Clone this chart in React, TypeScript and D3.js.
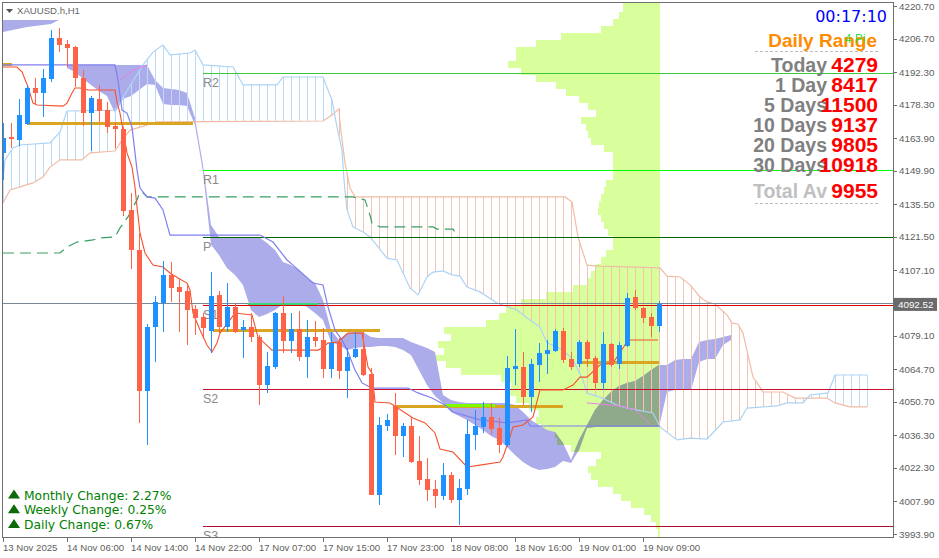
import React from "react";
import * as d3 from "d3";

const W = 939;
const H = 558;

// ---------- candles (H1) ----------
const opens = [4157.6, 4164.4, 4163.1, 4170.0, 4185.5, 4183.3, 4189.3, 4207.0, 4204.4, 4203.1, 4189.8, 4174.7, 4180.8, 4176.0, 4169.2, 4167.9, 4133.1, 4115.9, 4055.3, 4082.8, 4093.1, 4105.2, 4100.0, 4098.3, 4090.5, 4087.1, 4081.1, 4096.6, 4082.8, 4091.4, 4081.5, 4082.8, 4078.5, 4057.9, 4065.6, 4088.8, 4076.8, 4082.0, 4069.9, 4078.5, 4077.2, 4064.8, 4076.4, 4063.9, 4069.9, 4073.4, 4062.6, 4010.7, 4040.3, 4048.9, 4036.0, 4040.3, 4025.3, 4017.5, 4013.2, 4010.2, 4019.2, 4008.5, 4013.2, 4036.4, 4039.9, 4044.2, 4039.4, 4032.1, 4064.8, 4065.6, 4052.8, 4066.5, 4071.2, 4072.5, 4081.1, 4069.1, 4066.9, 4076.4, 4069.5, 4058.8, 4075.5, 4066.9, 4074.7, 4095.7, 4091.0, 4087.1, 4083.2];
const highs = [4170.4, 4170.4, 4180.8, 4186.8, 4189.8, 4193.6, 4210.4, 4211.2, 4206.1, 4203.5, 4193.2, 4182.0, 4186.8, 4179.5, 4170.4, 4168.7, 4140.4, 4123.2, 4084.1, 4096.1, 4111.2, 4110.7, 4103.4, 4101.7, 4092.3, 4088.8, 4106.4, 4098.3, 4101.7, 4093.1, 4085.8, 4088.8, 4079.4, 4072.1, 4089.3, 4096.1, 4088.8, 4089.7, 4085.8, 4085.4, 4082.4, 4080.7, 4078.1, 4073.8, 4080.7, 4080.7, 4065.2, 4044.2, 4045.4, 4054.5, 4041.6, 4044.2, 4036.0, 4026.5, 4017.1, 4024.4, 4020.5, 4017.5, 4042.9, 4047.2, 4050.6, 4050.2, 4043.7, 4070.4, 4082.0, 4072.1, 4069.1, 4075.9, 4077.2, 4082.0, 4082.4, 4072.1, 4077.2, 4077.2, 4070.4, 4080.7, 4075.9, 4076.4, 4097.4, 4098.7, 4091.4, 4088.8, 4094.0];
const lows = [4146.0, 4159.7, 4160.6, 4169.6, 4178.2, 4173.0, 4188.1, 4200.9, 4194.5, 4185.9, 4169.2, 4158.4, 4170.9, 4166.2, 4159.7, 4130.5, 4107.7, 4041.6, 4032.1, 4067.8, 4080.7, 4093.6, 4080.7, 4075.1, 4079.4, 4078.5, 4071.7, 4080.2, 4080.7, 4080.2, 4069.5, 4076.4, 4049.3, 4054.5, 4064.8, 4071.7, 4071.7, 4068.2, 4060.9, 4074.2, 4060.9, 4060.9, 4060.5, 4052.3, 4069.5, 4061.8, 4010.7, 4006.4, 4038.1, 4027.8, 4027.0, 4024.4, 4015.0, 4008.1, 4005.1, 4008.5, 4007.2, 3997.8, 4010.7, 4030.0, 4037.3, 4036.9, 4028.7, 4031.3, 4057.9, 4049.3, 4046.3, 4059.2, 4062.6, 4072.1, 4067.4, 4064.3, 4065.6, 4065.6, 4055.8, 4055.8, 4065.6, 4064.8, 4074.2, 4090.1, 4084.5, 4078.5, 4080.7];
const closes = [4164.0, 4163.6, 4173.9, 4185.5, 4183.3, 4189.8, 4207.0, 4204.0, 4202.7, 4189.8, 4174.7, 4181.2, 4175.6, 4168.7, 4167.9, 4132.6, 4115.9, 4055.3, 4082.8, 4093.6, 4105.2, 4099.6, 4097.9, 4090.1, 4086.7, 4082.4, 4096.1, 4082.8, 4091.4, 4080.7, 4082.8, 4078.5, 4057.9, 4066.1, 4088.8, 4076.8, 4082.0, 4069.9, 4078.5, 4076.8, 4064.8, 4075.9, 4063.9, 4069.9, 4073.4, 4062.2, 4010.7, 4040.7, 4042.9, 4036.0, 4040.3, 4024.8, 4017.1, 4012.8, 4010.2, 4019.2, 4008.5, 4013.7, 4036.9, 4040.3, 4044.2, 4039.0, 4032.1, 4065.2, 4066.1, 4052.8, 4066.9, 4071.7, 4072.9, 4081.1, 4068.6, 4065.6, 4076.4, 4069.1, 4058.8, 4075.5, 4066.5, 4075.1, 4095.3, 4091.0, 4086.7, 4083.2, 4092.5];

// ---------- axes ----------
const timeLabels = ["13 Nov 2025", "14 Nov 06:00", "14 Nov 14:00", "14 Nov 22:00", "17 Nov 07:00", "17 Nov 15:00", "17 Nov 23:00", "18 Nov 08:00", "18 Nov 16:00", "19 Nov 01:00", "19 Nov 09:00"];
const timeLabelBars = [0, 8, 16, 24, 32, 40, 48, 56, 64, 72, 80];
const priceTicks = [4220.7, 4206.7, 4192.3, 4178.3, 4163.9, 4149.9, 4135.5, 4121.5, 4107.1, 4079.1, 4064.7, 4050.7, 4036.3, 4022.3, 4007.9, 3993.9];
const lastPrice = 4092.52;

// ---------- Ichimoku (bar index, price) ----------
const spanA: [number, number][] = [[0, 4136.1], [0.875, 4141.7], [2.125, 4143.0], [3.75, 4144.7], [5, 4147.2], [5.875, 4151.5], [7.125, 4154.6], [9.875, 4154.6], [10.875, 4157.6], [14, 4158.4], [14.875, 4163.1], [15.875, 4167.4], [17.125, 4168.7], [19.25, 4170.9], [40, 4171.3], [41.125, 4173.9], [42, 4176.5], [42.125, 4170.4], [42.75, 4153.3], [43.375, 4142.5], [44, 4138.7], [70.25, 4138.7], [71.125, 4136.5], [71.875, 4121.5], [73, 4109.4], [74.625, 4109.0], [82.125, 4108.2], [83, 4104.7], [84.625, 4104.3], [85.875, 4100.9], [87.125, 4095.7], [88, 4093.6], [89, 4092.7], [90.5, 4088.0], [91.125, 4084.5], [91.875, 4084.1], [92.5, 4080.2], [93.75, 4061.3], [94.625, 4057.0], [95, 4054.9], [97.5, 4054.9], [99, 4052.3], [103, 4052.3], [104, 4050.2], [105.875, 4048.5], [108, 4048.5]];
const spanB: [number, number][] = [[0, 4145.9], [0.25, 4154.6], [1.25, 4159.7], [2.125, 4161.0], [5.875, 4161.9], [7.125, 4166.6], [8, 4175.6], [14, 4176.0], [17.5, 4195.4], [18.75, 4200.9], [20, 4203.9], [20.875, 4199.7], [23.375, 4200.5], [24, 4201.8], [25, 4195.4], [28.75, 4194.5], [30, 4186.8], [34.25, 4186.8], [35, 4190.2], [40, 4190.2], [41.125, 4180.3], [41.75, 4168.7], [42.375, 4158.8], [42.625, 4146.0], [43, 4133.1], [43.75, 4125.8], [45, 4123.6], [45.875, 4121.5], [48, 4112.4], [49.25, 4111.6], [50.875, 4099.6], [51.875, 4096.6], [53, 4104.3], [53.75, 4106.4], [55, 4106.9], [56.125, 4105.2], [57.125, 4104.7], [58, 4100.0], [59.625, 4097.9], [61.75, 4093.1], [64.25, 4090.1], [65.5, 4086.7], [67.125, 4082.8], [68, 4076.0], [70, 4073.0], [71.25, 4068.6], [72.5, 4060.0], [73, 4054.4], [74.625, 4052.7], [76.75, 4049.3], [78, 4048.0], [81.25, 4045.9], [82.125, 4039.9], [84.25, 4034.3], [85.875, 4035.1], [88, 4034.7], [90, 4042.0], [92.125, 4042.9], [93, 4048.0], [96.75, 4048.9], [98, 4050.2], [100, 4050.2], [100.875, 4053.6], [103.125, 4054.5], [104, 4062.2], [108, 4062.2]];
const kijun: [number, number][] = [[0, 4195.4], [14, 4195.4], [14.375, 4188.9], [14.875, 4176.0], [15.5, 4174.7], [16.125, 4168.7], [16.75, 4150.3], [17.125, 4142.5], [18, 4138.7], [19, 4138.2], [20, 4133.1], [20.875, 4122.3], [32.125, 4122.3], [33.75, 4119.3], [35.5, 4111.6], [36.25, 4109.4], [38.75, 4101.7], [40, 4100.9], [40.625, 4091.4], [41.5, 4081.5], [42.375, 4077.2], [43.125, 4072.1], [44, 4064.3], [44.875, 4058.8], [46.125, 4056.6], [50.625, 4056.6], [51.875, 4054.5], [53.625, 4052.3], [55.25, 4049.3], [56.25, 4046.3], [59.625, 4042.9], [63, 4041.6], [65.5, 4042.9], [65.875, 4040.3], [82.125, 4040.3]];
const tenkan: [number, number][] = [[0, 4194.5], [1.75, 4194.5], [2.375, 4192.4], [3.125, 4185.9], [3.75, 4179.0], [4.25, 4178.2], [7.5, 4177.7], [8, 4179.0], [8.625, 4183.3], [9, 4185.5], [9.625, 4185.5], [10.625, 4184.6], [14, 4184.6], [14.25, 4179.5], [14.625, 4174.7], [15, 4167.4], [15.5, 4157.6], [16.125, 4151.5], [16.5, 4143.0], [16.75, 4134.4], [17.125, 4123.2], [17.75, 4114.6], [18.75, 4109.4], [20, 4108.6], [20.875, 4106.0], [21.875, 4103.9], [23, 4101.7], [23.375, 4098.7], [23.75, 4088.8], [24.625, 4081.5], [25.5, 4075.1], [26.125, 4072.1], [26.75, 4075.9], [27.125, 4080.2], [29, 4088.8], [31.125, 4088.0], [31.875, 4078.5], [33.625, 4072.9], [39.375, 4072.9], [39.875, 4073.8], [40.625, 4075.9], [41.875, 4076.4], [43.125, 4080.2], [44.875, 4080.2], [45.625, 4065.6], [46.125, 4063.0], [46.5, 4050.6], [48.375, 4050.2], [51.25, 4043.7], [52.75, 4041.6], [54, 4037.3], [54.625, 4030.4], [56.25, 4029.1], [58, 4022.7], [59.625, 4023.5], [62.125, 4024.8], [62.5, 4027.0], [63.375, 4035.6], [63.75, 4039.9], [65, 4040.7], [66.25, 4044.2], [67.125, 4055.8], [70, 4055.8], [71.25, 4057.9], [72.125, 4061.3], [73, 4061.3], [74.625, 4066.5], [76.25, 4067.4], [77.5, 4073.8], [78.125, 4077.2], [81.875, 4077.2]];
const dashedLevel: [number, number][] = [[0, 4114.6], [7.125, 4114.6], [8, 4117.2], [9.25, 4119.3], [11.25, 4120.2], [12.125, 4121.1], [14, 4121.5], [14.625, 4125.4], [15.625, 4130.1], [16.25, 4134.4], [16.75, 4137.4], [17.125, 4140.8], [17.5, 4140.4], [18, 4138.7], [43.75, 4138.7], [45.25, 4137.4], [45.875, 4130.9], [46.125, 4127.5], [47.125, 4125.8], [53.75, 4125.8], [54.25, 4124.9], [56.25, 4124.9], [56.875, 4121.5]];
const pinkLineA: [number, number][] = [[14.625, 4188.9], [16.25, 4193.2], [18, 4195.4]];
const pinkLineB: [number, number][] = [[73, 4050.2], [77.125, 4048.9], [79, 4047.2], [81.125, 4040.3]];

// higher-timeframe filled cloud
const lavBars = [0, 3, 6, 7, 7.5, 8, 9, 10, 11, 12, 13, 14, 15, 16, 17, 18, 19, 20, 21, 22, 23, 24, 25, 26, 27, 28, 29, 30, 31, 32, 33, 34, 35, 36, 37, 38, 39, 40, 41, 42, 43, 44, 45, 46, 47, 48, 49, 50, 51, 52, 53, 54, 55, 56, 57, 58, 59, 60, 61, 62, 63, 64, 65, 66, 67, 68, 69, 70, 71, 72, 73, 74, 75, 76, 77, 78, 79, 80, 81, 82, 83, 84, 85, 86, 87, 88, 89, 90, 91];
const lavUpper = [4214.7, 4214.7, 4214.7, 4214.7, null, 4195.4, 4195.4, 4195.4, 4195.4, 4195.4, 4195.4, 4195.4, 4195.4, 4195.4, 4195.4, 4195.4, 4188.9, 4185.5, 4185.1, 4184.6, 4183.3, 4172.6, 4152.4, 4126.6, 4121.5, 4121.5, 4121.5, 4121.5, 4121.5, 4121.5, 4118.9, 4115.9, 4110.7, 4109.4, 4107.3, 4103.9, 4101.7, 4094.4, 4081.5, 4077.2, 4080.2, 4080.7, 4080.7, 4078.5, 4078.1, 4078.1, 4078.1, 4078.1, 4076.4, 4075.1, 4073.8, 4072.1, 4053.6, 4051.5, 4050.6, 4050.2, 4050.2, 4050.2, 4050.2, 4050.2, 4050.2, 4049.3, 4046.3, 4042.9, 4040.7, 4038.6, 4037.7, 4033.0, 4025.7, 4034.3, 4040.7, 4047.2, 4051.5, 4054.9, 4057.5, 4058.8, 4059.6, 4061.8, 4064.3, 4066.5, 4066.5, 4068.6, 4069.1, 4069.1, 4076.4, 4077.2, 4077.7, 4078.5, 4079.4];
const lavLower = [4209.5, 4211.7, 4213.0, 4214.7, null, 4194.1, 4192.4, 4189.4, 4186.8, 4184.2, 4182.0, 4174.7, 4180.8, 4182.0, 4184.6, 4187.2, 4186.8, 4178.6, 4178.2, 4178.2, 4177.7, 4169.6, 4149.4, 4118.1, 4113.7, 4108.2, 4105.2, 4100.9, 4090.1, 4087.1, 4088.4, 4090.1, 4092.7, 4093.1, 4093.1, 4091.4, 4088.8, 4085.8, 4076.4, 4075.1, 4072.9, 4073.8, 4074.2, 4074.2, 4074.7, 4074.7, 4074.2, 4072.9, 4070.8, 4064.3, 4057.9, 4053.2, 4050.2, 4046.3, 4044.6, 4042.9, 4040.7, 4038.6, 4036.0, 4034.3, 4031.3, 4027.8, 4024.8, 4022.7, 4021.4, 4021.8, 4022.7, 4025.3, 4024.4, 4030.0, 4039.4, 4039.9, 4039.9, 4039.9, 4039.9, 4039.9, 4039.9, 4039.9, 4039.9, 4039.9, 4054.9, 4055.8, 4055.8, 4055.8, 4067.8, 4069.1, 4069.1, 4075.1, 4077.2];

// ---------- volume profile ----------
const profileLow = [3996, 3999, 4002, 4005, 4008, 4011, 4014, 4017, 4020, 4023, 4026, 4029, 4032, 4035, 4038, 4041, 4044, 4047, 4050, 4053, 4056, 4059, 4062, 4065, 4068, 4071, 4074, 4077, 4080, 4083, 4086, 4089, 4092, 4095, 4098, 4101, 4104, 4107, 4110, 4113, 4116, 4119, 4122, 4125, 4128, 4131, 4134, 4137, 4140, 4143, 4146, 4149, 4152, 4155, 4158, 4161, 4164, 4167, 4170, 4173, 4176, 4179, 4182, 4185, 4188, 4191, 4194, 4197, 4200, 4203, 4206, 4209, 4212, 4215, 4218, 4221];
const profileVol = [4, 9, 16, 29, 39, 47, 62, 69, 72, 64, 59, 89, 103, 111, 119, 124, 121, 131, 144, 154, 149, 159, 199, 214, 229, 216, 222, 209, 216, 174, 161, 154, 139, 114, 87, 72, 69, 64, 59, 54, 47, 47, 52, 56, 59, 62, 61, 59, 56, 54, 47, 47, 47, 47, 56, 69, 72, 74, 79, 64, 72, 81, 94, 104, 124, 139, 152, 144, 144, 124, 99, 59, 47, 41, 37, 37];
const profileStep = 3;

// ---------- pivots & levels ----------
const pivotNames = ["R2", "R1", "P", "S1", "S2", "S3"];
const pivotValues = [4191.9, 4150.3, 4121.5, 4092.3, 4056.2, 3997.5];
const pivotColors = ["#3cc83c", "#00ff00", "#006400", "#e00000", "#c8102e", "#b01030"];
const pivotStartBar = 25;

const goldLevels = [4195.4, 4170.4, 4081.5, 4048.5, 4067.4];
const goldFrom = [0, 3.125, 26.25, 49, 72.125];
const goldTo = [1.125, 23.75, 47.125, 70, 82];
const greenLevels = [4092.7, 4048.9];
const greenFrom = [30.625, 55.25];
const greenTo = [39.375, 61.5];
const greenColors = ["#3bd67a", "#7cfc00"];

// ---------- info panel ----------
const timerText = "00:17:10";
const rangeLabels = ["Today", "1 Day", "5 Days", "10 Days", "20 Days", "30 Days"];
const rangeValues = [4279, 8417, 11500, 9137, 9805, 10918];
const rangeAverage = 9955;
const changeLabels = ["Monthly Change", "Weekly Change", "Daily Change"];
const changeValues = [2.27, 0.25, 0.67];

function interp(pts: [number, number][], t: number): number {
  if (t <= pts[0][0]) return pts[0][1];
  for (let k = 1; k < pts.length; k++) {
    if (t <= pts[k][0]) {
      const [x0, y0] = pts[k - 1];
      const [x1, y1] = pts[k];
      return x1 === x0 ? y1 : y0 + ((y1 - y0) * (t - x0)) / (x1 - x0);
    }
  }
  return pts[pts.length - 1][1];
}

export default function App() {
  const left = 3, right = 893, top = 3, bottom = 537;
  const x = d3.scaleLinear().domain([0, 110]).range([3, 883]);
  const y = d3.scaleLinear().domain([3993.9, 4220.7]).range([534, 6]);
  const volW = d3.scaleLinear().domain([0, 100]).range([0, 100]);
  const lastBar = opens.length - 1;
  const profRight = x(lastBar) + 1;
  const overlapStart = x(69);

  const line = d3.line<[number, number]>().x((d) => x(d[0])).y((d) => y(d[1]));
  const lavData = lavBars.map((b, k) => ({ b, hi: lavUpper[k], lo: lavLower[k] }));
  const lavArea = d3
    .area<{ b: number; hi: number | null; lo: number | null }>()
    .defined((d) => d.hi != null)
    .x((d) => x(d.b))
    .y0((d) => y(d.lo as number))
    .y1((d) => y(d.hi as number));
  const lavPath = lavArea(lavData) || "";

  const hatchIdx = d3.range(0, 109);
  const sans = "'Liberation Sans', Arial, sans-serif";
  const dv = "'DejaVu Sans', Verdana, sans-serif";

  const profRects = profileLow.map((p, k) => {
    const y0 = Math.round(y(p + profileStep));
    const y1 = Math.round(y(p));
    const w = volW(profileVol[k]);
    return { x: Math.round(profRight - w), y: y0, h: y1 - y0, w: Math.round(w) };
  });

  return (
    <svg width={W} height={H} style={{ position: "absolute", left: 0, top: 0, background: "#fff" }} xmlns="http://www.w3.org/2000/svg">
      <defs>
        <clipPath id="plot">
          <rect x={left} y={top} width={right - left} height={bottom - top} />
        </clipPath>
        <clipPath id="profClip">
          {profRects.map((r, k) => {
            const xs = Math.max(r.x, overlapStart);
            return xs < profRight ? <rect key={k} x={xs} y={r.y} width={profRight - xs} height={r.h} /> : null;
          })}
        </clipPath>
      </defs>

      <g clipPath="url(#plot)">
        {/* volume profile */}
        <g shapeRendering="crispEdges" fill="#d9ff9d">
          {profRects.map((r, k) => (
            <rect key={k} x={r.x} y={r.y} width={profRight - r.x} height={r.h} />
          ))}
          <rect x={profRight - 2} y={top} width={2} height={bottom - top} />
        </g>

        {/* higher timeframe cloud */}
        <path d={lavPath} fill="#acacea" stroke="none" />
        <path d={lavPath} fill="#8fa98b" clipPath="url(#profClip)" />

        {/* ichimoku hatch */}
        <g shapeRendering="crispEdges">
          {hatchIdx.map((i) => {
            const a = interp(spanA, i);
            const b = interp(spanB, i);
            return (
              <line key={i} x1={x(i) + 0.5} x2={x(i) + 0.5} y1={y(a)} y2={y(b)} stroke={a >= b ? "#f2c4b2" : "#b8dbf7"} strokeWidth={1} />
            );
          })}
        </g>
        <path d={line(spanA) || ""} fill="none" stroke="#f0bca6" strokeWidth={1.2} />
        <path d={line(spanB) || ""} fill="none" stroke="#acd3f5" strokeWidth={1.2} />
        <path d={line(pinkLineA) || ""} fill="none" stroke="#e581e5" strokeWidth={1} />
        <path d={line(pinkLineB) || ""} fill="none" stroke="#e581e5" strokeWidth={1} />

        {/* pivots */}
        <g shapeRendering="crispEdges">
          {pivotValues.map((v, k) => (
            <line key={k} x1={x(pivotStartBar)} x2={right} y1={Math.round(y(v)) + 0.5} y2={Math.round(y(v)) + 0.5} stroke={pivotColors[k]} strokeWidth={k === 1 ? 1.5 : 1.2} />
          ))}
          <line x1={left} x2={right} y1={Math.round(y(lastPrice)) - 0.5} y2={Math.round(y(lastPrice)) - 0.5} stroke="#778899" strokeWidth={1.3} />
        </g>
        {pivotValues.map((v, k) => (
          <text key={k} x={x(pivotStartBar)} y={y(v) + 14} fontFamily={sans} fontSize={12.5} fill="#8a8a8a">
            {pivotNames[k]}
          </text>
        ))}

        {/* gold levels */}
        <g shapeRendering="crispEdges">
          {goldLevels.map((v, k) => (
            <line key={k} x1={x(goldFrom[k])} x2={x(goldTo[k])} y1={y(v)} y2={y(v)} stroke="#daa520" strokeWidth={3} />
          ))}
          {greenLevels.map((v, k) => (
            <line key={k} x1={x(greenFrom[k])} x2={x(greenTo[k])} y1={y(v)} y2={y(v)} stroke={greenColors[k]} strokeWidth={k === 0 ? 1.5 : 3} />
          ))}
        </g>

        {/* lines */}
        <path d={line(dashedLevel) || ""} fill="none" stroke="#3a9d62" strokeWidth={1.2} strokeDasharray="11,6" />
        <path d={line(kijun) || ""} fill="none" stroke="#7f7ff0" strokeWidth={1.2} />
        <path d={line(tenkan) || ""} fill="none" stroke="#f4522d" strokeWidth={1.1} />

        {/* candles */}
        <g shapeRendering="crispEdges">
          {opens.map((o, i) => {
            const c = closes[i];
            const bull = c >= o;
            const col = bull ? "#1e90ff" : "#ff6347";
            const cx = x(i);
            const yTop = y(Math.max(o, c));
            const yBot = y(Math.min(o, c));
            return (
              <g key={i}>
                <line x1={cx + 0.5} x2={cx + 0.5} y1={y(highs[i])} y2={y(lows[i])} stroke={col} strokeWidth={1} />
                <rect x={cx - 2} y={yTop} width={5} height={Math.max(1, yBot - yTop)} fill={col} />
              </g>
            );
          })}
        </g>
      </g>

      {/* frame */}
      <g shapeRendering="crispEdges" stroke="#6f6f6f" strokeWidth={1}>
        <line x1={2.5} x2={2.5} y1={2} y2={bottom + 1} />
        <line x1={2} x2={right + 1} y1={2.5} y2={2.5} />
        <line x1={right + 0.5} x2={right + 0.5} y1={2} y2={bottom + 1} />
        <line x1={2} x2={right + 1} y1={bottom + 0.5} y2={bottom + 0.5} />
      </g>

      {/* y axis */}
      <g shapeRendering="crispEdges">
        {priceTicks.map((p, k) => (
          <line key={k} x1={right} x2={right + 4} y1={Math.round(y(p)) + 0.5} y2={Math.round(y(p)) + 0.5} stroke="#6f6f6f" />
        ))}
      </g>
      {priceTicks.map((p, k) => (
        <text key={k} x={899} y={y(p) + 3.5} fontFamily={sans} fontSize={9.8} fill="#5e5e5e">
          {p.toFixed(2)}
        </text>
      ))}
      <rect x={894} y={y(lastPrice) - 6.5} width={43} height={13} fill="#6a6a6a" />
      <text x={898} y={y(lastPrice) + 3.5} fontFamily={sans} fontSize={9.8} fill="#ffffff">
        {lastPrice.toFixed(2)}
      </text>

      {/* x axis */}
      <g shapeRendering="crispEdges">
        {timeLabelBars.map((b, k) => (
          <line key={k} x1={x(b) + 0.5} x2={x(b) + 0.5} y1={bottom} y2={bottom + 5} stroke="#6f6f6f" />
        ))}
      </g>
      {timeLabels.map((t, k) => (
        <text key={k} x={x(timeLabelBars[k])} y={551} fontFamily={sans} fontSize={9.6} fill="#5e5e5e">
          {t}
        </text>
      ))}

      {/* title */}
      <path d="M6,9 L13,9 L9.5,13 Z" fill="#555" />
      <text x={17} y={14} fontFamily={sans} fontSize={9.6} fill="#666">XAUUSD.h,H1</text>

      {/* info panel */}
      <text x={887} y={22} textAnchor="end" fontFamily={dv} fontSize={16} fill="#0000ff">{timerText}</text>
      <text x={877} y={47} textAnchor="end" fontFamily={sans} fontWeight="bold" fontSize={19} fill="#ff8c00">Daily Range</text>
      <text x={845} y={43} fontFamily={sans} fontSize={12} fill="#22dd22" opacity={0.85}>4 Pi</text>
      <line x1={755} x2={878} y1={51.5} y2={51.5} stroke="#bdbdbd" strokeDasharray="3,2" />
      {rangeLabels.map((l, k) => (
        <g key={k}>
          <text x={827} y={72 + k * 20} textAnchor="end" fontFamily={sans} fontWeight="bold" fontSize={19.5} fill="#808080">{l}</text>
          <text x={878} y={72 + k * 20} textAnchor="end" fontFamily={sans} fontWeight="bold" fontSize={21} fill="#ff0000">{rangeValues[k]}</text>
        </g>
      ))}
      <text x={827} y={198} textAnchor="end" fontFamily={sans} fontWeight="bold" fontSize={19.5} fill="#c0c0c0">Total Av</text>
      <text x={878} y={198} textAnchor="end" fontFamily={sans} fontWeight="bold" fontSize={21} fill="#ff0000">{rangeAverage}</text>
      <line x1={755} x2={878} y1={203.5} y2={203.5} stroke="#bdbdbd" strokeDasharray="3,2" />

      {/* change texts */}
      {changeLabels.map((l, k) => {
        const yb = 499.5 + k * 14.7;
        return (
          <g key={k}>
            <path d={`M8,${yb - 1} L20,${yb - 1} L14,${yb - 10} Z`} fill="#0b6b0b" />
            <text x={24} y={yb} fontFamily={dv} fontSize={12.3} fill="#008000">{`${l}: ${changeValues[k].toFixed(2)}%`}</text>
          </g>
        );
      })}
    </svg>
  );
}
